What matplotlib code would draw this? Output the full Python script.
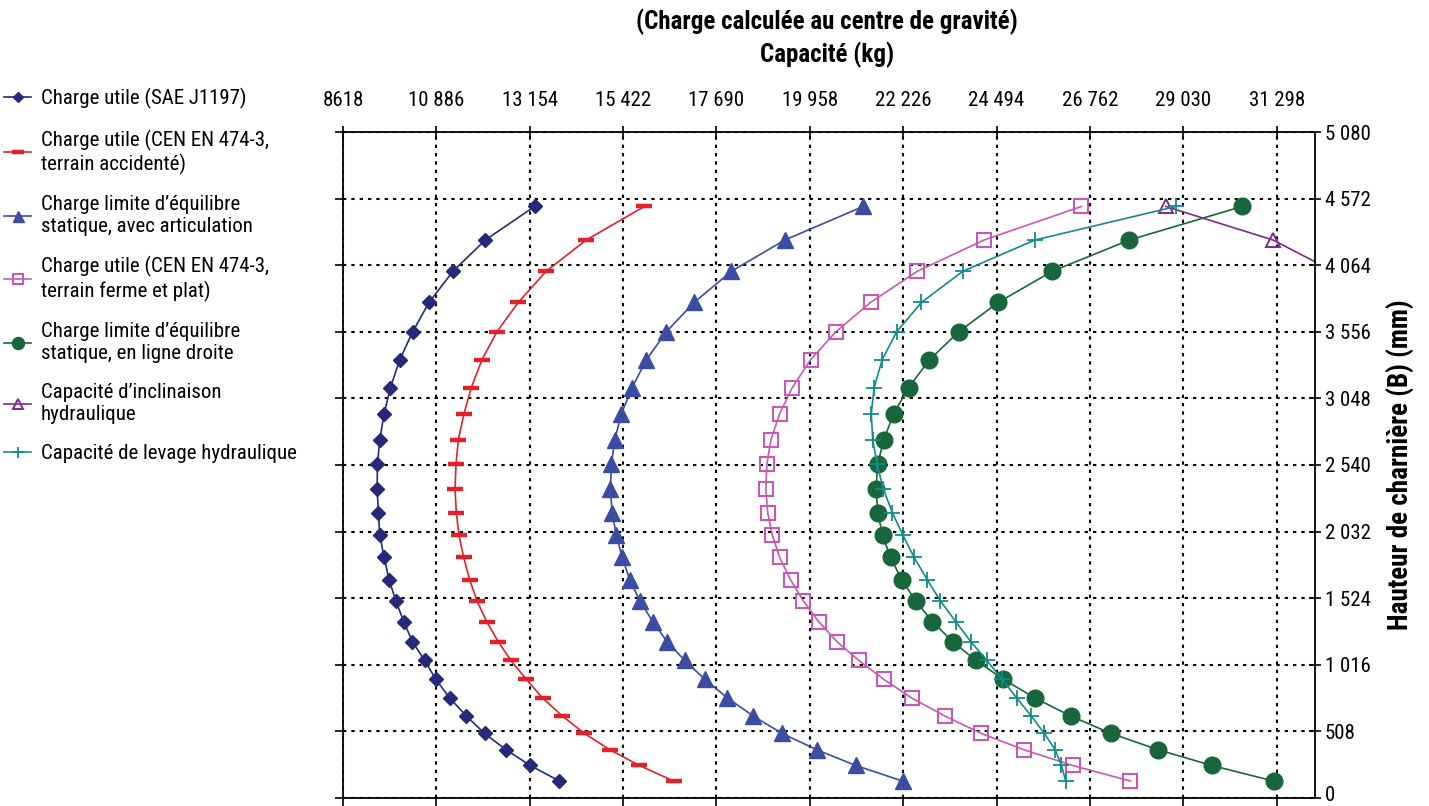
import matplotlib
matplotlib.use("Agg")
import matplotlib.pyplot as plt
from matplotlib.lines import Line2D
from matplotlib import font_manager as fm
from matplotlib.transforms import ScaledTranslation

# ---- pick a condensed sans font if one is installed ----
def _stretch_val(s):
    table = {'ultra-condensed': 500, 'extra-condensed': 600, 'condensed': 700, 'semi-condensed': 800,
             'normal': 1000, 'semi-expanded': 1100, 'expanded': 1200}
    if isinstance(s, (int, float)):
        return s * 10 if s < 300 else s
    return table.get(str(s), 1000)

FONT_NAME, FONT_STRETCH, NARROW = 'Liberation Sans', 'normal', False
prefs = ['Liberation Sans Narrow', 'Roboto Condensed', 'Noto Sans', 'Open Sans', 'Roboto',
         'DejaVu Sans', 'Lato', 'Inter']
found = {}
for f in fm.fontManager.ttflist:
    sv = _stretch_val(f.stretch)
    if 'Narrow' in f.name or 'Condensed' in f.name or sv < 1000:
        found.setdefault(f.name, []).append(f.stretch)
for p in prefs:
    if p in found:
        FONT_NAME = p
        st = found[p][0]
        FONT_STRETCH = st if isinstance(st, str) else int(st)
        NARROW = True
        break

plt.rcParams['font.family'] = [FONT_NAME, 'DejaVu Sans']
plt.rcParams['font.stretch'] = FONT_STRETCH
FS = 15 if NARROW else 12.5
FS_TITLE = FS * 1.2
FS_YLAB = FS * 1.3

# ---------------- data ----------------
heights_mm = [4512, 4256, 4018, 3780, 3557, 3343, 3131, 2932, 2733, 2545, 2358, 2177, 2004,
              1835, 1665, 1504, 1346, 1192, 1049, 906, 763, 626, 492, 367, 248, 129]

sae_j1197 = [13271, 12075, 11290, 10708, 10312, 9997, 9770, 9617, 9511, 9455, 9447, 9479, 9511,
             9617, 9738, 9900, 10094, 10304, 10603, 10870, 11209, 11614, 12058, 12584, 13166, 13877]
cen_rough = [15940, 14525, 13554, 12875, 12358, 11994, 11735, 11557, 11420, 11363, 11339, 11371, 11436,
             11549, 11695, 11872, 12107, 12390, 12697, 13069, 13465, 13943, 14484, 15107, 15818, 16651]
tip_articulated = [21254, 19351, 18055, 17147, 16475, 15989, 15641, 15382, 15220, 15139, 15114, 15155, 15260,
                   15398, 15584, 15827, 16143, 16491, 16921, 17407, 17957, 18581, 19286, 20136, 21076, 22210]
cen_firm = [26556, 24189, 22572, 21433, 20594, 19976, 19534, 19225, 19013, 18916, 18889, 18934, 19048,
            19225, 19490, 19799, 20170, 20620, 21150, 21751, 22431, 23235, 24127, 25169, 26344, 27748]
tip_straight = [30459, 27721, 25849, 24533, 23579, 22864, 22360, 22000, 21751, 21610, 21565, 21610, 21724,
                21919, 22192, 22528, 22934, 23429, 23994, 24657, 25425, 26291, 27280, 28428, 29726, 31228]
hyd_lift = [28852, 25425, 23676, 22669, 22069, 21716, 21521, 21451, 21486, 21592, 21742, 21963, 22219,
            22493, 22811, 23129, 23500, 23871, 24259, 24630, 24983, 25337, 25655, 25920, 26070, 26176]
hyd_tilt = [28605, 31211, 32676]
hyd_tilt_heights = [4512, 4256, 4018]

x_ticks = [8618, 10886, 13154, 15422, 17690, 19958, 22226, 24494, 26762, 29030, 31298]
x_labels = ['8618', '10 886', '13 154', '15 422', '17 690', '19 958', '22 226', '24 494',
            '26 762', '29 030', '31 298']
y_ticks = [0, 508, 1016, 1524, 2032, 2540, 3048, 3556, 4064, 4572, 5080]
y_labels = ['0', '508', '1 016', '1 524', '2 032', '2 540', '3 048', '3 556', '4 064', '4 572', '5 080']

labels = [
    'Charge utile (SAE J1197)',
    'Charge utile (CEN EN 474-3,\nterrain accidenté)',
    'Charge limite d\u2019équilibre\nstatique, avec articulation',
    'Charge utile (CEN EN 474-3,\nterrain ferme et plat)',
    'Charge limite d\u2019équilibre\nstatique, en ligne droite',
    'Capacité d\u2019inclinaison\nhydraulique',
    'Capacité de levage hydraulique',
]

# ---------------- figure ----------------
W, H = 1429, 806
fig = plt.figure(figsize=(W / 100, H / 100), dpi=100)
ax = fig.add_axes([343 / W, 1 - 798 / H, (1315 - 343) / W, (798 - 132) / H])

grid_kw = dict(color='black', lw=1.5, linestyle=(0, (1.6, 2.4)), zorder=1)
for xv in x_ticks:
    ax.axvline(xv, **grid_kw)
for yv in y_ticks:
    ax.axhline(yv, **grid_kw)

lw = 1.2
styles = [
    (sae_j1197, heights_mm, dict(color='#26297A', marker='D', ms=7.5, mfc='#26297A', mec='#26297A')),
    (cen_rough, heights_mm, dict(color='#E2222B', marker='_', ms=12, mew=3.2)),
    (tip_articulated, heights_mm, dict(color='#3A4DA3', marker='^', ms=11, mfc='#3A4DA3', mec='#3A4DA3')),
    (cen_firm, heights_mm, dict(color='#C659B5', marker='s', ms=10.5, mfc='none', mec='#C659B5', mew=1.5)),
    (tip_straight, heights_mm, dict(color='#17673A', marker='o', ms=12, mfc='#17673A', mec='#17673A')),
    (hyd_tilt, hyd_tilt_heights, dict(color='#7D2A8C', marker='^', ms=10.5, mfc='none', mec='#7D2A8C', mew=1.4)),
    (hyd_lift, heights_mm, dict(color='#138A8C', marker='+', ms=11, mew=1.3)),
]
order_z = [3, 3, 3, 3, 3, 4, 5]
handles = []
for (xs, ys, st), z in zip(styles, order_z):
    ax.plot(xs, ys, lw=lw, zorder=z, **st)
    hst = dict(st)
    hst['ms'] = st['ms'] * 0.72
    handles.append(Line2D([], [], lw=lw, **hst))

ax.set_xlim(8618, 32230)
ax.set_ylim(0, 5080)

for s in ax.spines.values():
    s.set_color('black')
    s.set_linewidth(1.3)
    s.set_zorder(6)

ax.set_xticks(x_ticks)
ax.set_xticklabels(x_labels)
ax.set_yticks(y_ticks)
ax.set_yticklabels(y_labels)
ax.tick_params(axis='x', which='both', top=True, bottom=True, labeltop=True, labelbottom=False,
               direction='out', length=6, width=1.2, labelsize=FS, pad=10)
for t in ax.xaxis.get_major_ticks():
    t.tick2line.set_marker('|')
    t.tick2line.set_markersize(9)
ax.tick_params(axis='y', left=True, right=True, labelleft=False, labelright=True,
               direction='out', length=6, width=1.2, labelsize=FS, pad=1)
for t in ax.yaxis.get_major_ticks():
    t.tick2line.set_marker('_')
    t.tick2line.set_markersize(8)
# lift the "0" label a touch so it stays inside the canvas
zero_lbl = ax.yaxis.get_major_ticks()[0].label2
zero_lbl.set_transform(zero_lbl.get_transform() + ScaledTranslation(0, 3 / 72, fig.dpi_scale_trans))

fig.text(827 / W, 1 - 22 / H, '(Charge calculée au centre de gravité)', ha='center', va='center',
         fontsize=FS_TITLE, fontweight='bold')
fig.text(827 / W, 1 - 55 / H, 'Capacité (kg)', ha='center', va='center', fontsize=FS_TITLE,
         fontweight='bold')
fig.text(1401 / W, 1 - 465 / H, 'Hauteur de charnière (B) (mm)', ha='center', va='center',
         rotation=90, fontsize=FS_YLAB, fontweight='bold')

fig.legend(handles, labels, loc='upper left', bbox_to_anchor=(0.0, 1 - 84 / H), frameon=False,
           fontsize=FS, handlelength=1.3, handletextpad=0.45, labelspacing=0.97,
           borderaxespad=0, borderpad=0.2)

fig.savefig('out.png', dpi=100)
